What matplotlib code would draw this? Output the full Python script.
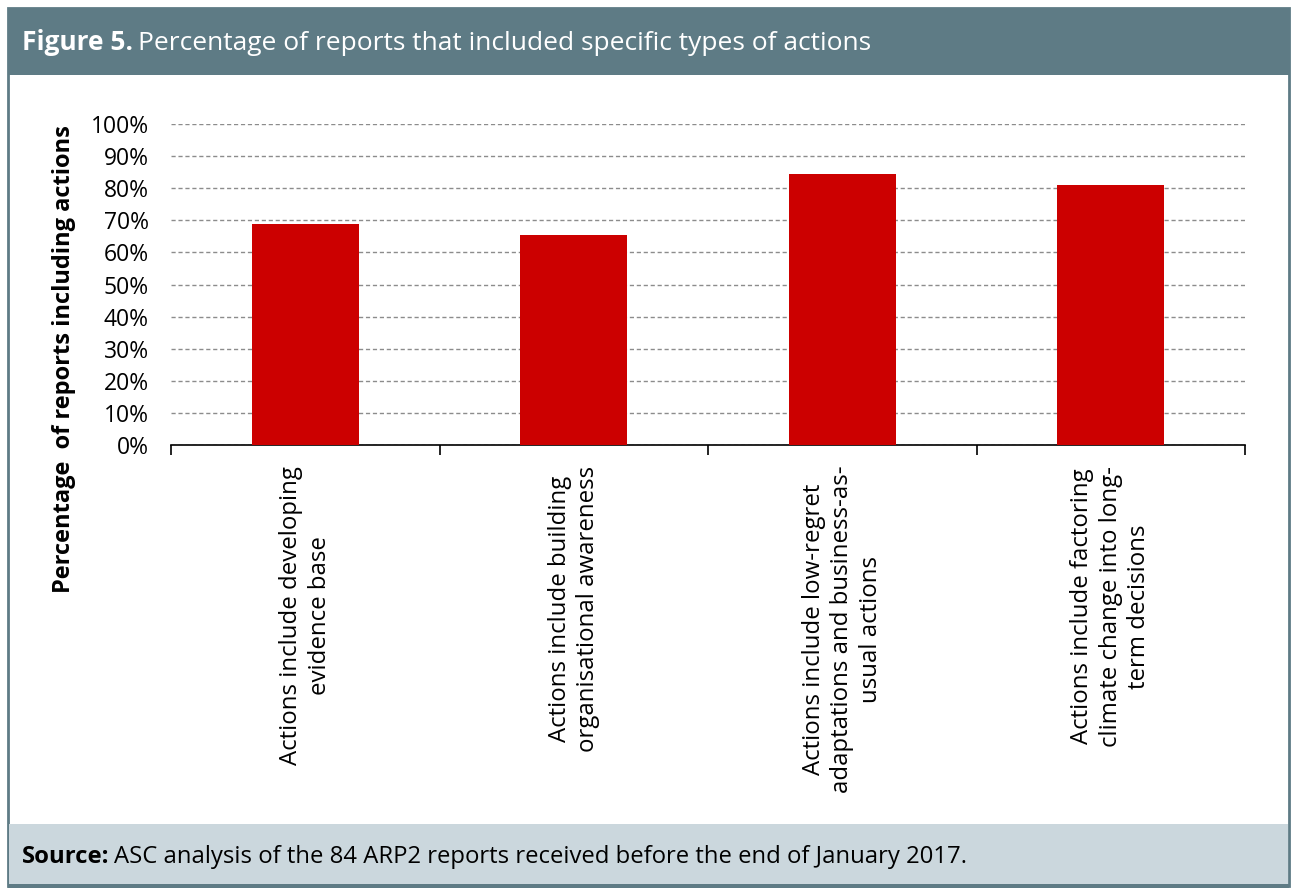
import matplotlib.pyplot as plt
from matplotlib.patches import Rectangle
from matplotlib.ticker import PercentFormatter

plt.rcParams['font.family'] = ['Open Sans', 'DejaVu Sans']

# ARP2 reports (84 in total) including each type of action
categories = [
    "Actions include developing\nevidence base",
    "Actions include building\norganisational awareness",
    "Actions include low-regret\nadaptations and business-as-\nusual actions",
    "Actions include factoring\nclimate change into long-\nterm decisions",
]
shares = [0.690, 0.655, 0.845, 0.810]
yticks = [i / 10 for i in range(11)]

frame_col = "#5E7B85"
foot_col = "#CBD7DD"
bar_col = "#CC0000"

fig = plt.figure(figsize=(12.95, 8.89), dpi=100)
W, H = 1295, 889

def box(x0, y0, x1, y1, **kw):
    # pixel box, measured from top-left
    fig.patches.append(Rectangle((x0 / W, 1 - y1 / H), (x1 - x0) / W, (y1 - y0) / H,
                                 transform=fig.transFigure, zorder=-1, **kw))

box(8, 8, 1289, 886, facecolor="white", edgecolor=frame_col, linewidth=2)
box(8, 8, 1289, 75, facecolor=frame_col, edgecolor="none")
box(9, 824, 1288, 884, facecolor=foot_col, edgecolor="none")
box(8, 884, 1289, 888, facecolor=frame_col, edgecolor="none")

ax = fig.add_axes([171 / W, 1 - 445 / H, (1245 - 171) / W, (445 - 124) / H])
ax.patch.set_alpha(0)
x = range(len(categories))
ax.bar(x, shares, width=0.4, color=bar_col, zorder=3)
ax.set_xlim(-0.5, len(categories) - 0.5)
ax.set_ylim(0, 1)
ax.set_yticks(yticks)
ax.yaxis.set_major_formatter(PercentFormatter(1.0, decimals=0))
ax.tick_params(axis="y", length=0, labelsize=16.5, pad=16)
ax.grid(axis="y", color="#8C8C8C", linestyle=(0, (3, 2)), linewidth=1, zorder=1)
ax.set_axisbelow(True)
for side in ["top", "right", "left"]:
    ax.spines[side].set_visible(False)
ax.spines["bottom"].set_linewidth(1.2)

ax.set_xticks([i - 0.5 for i in range(len(categories) + 1)])
ax.set_xticklabels([])
ax.tick_params(axis="x", length=7, width=1.2, direction="out")
ax.set_xticks(list(x), minor=True)
ax.set_xticklabels(categories, minor=True, rotation=90, fontsize=17.3,
                   ha="center", va="top", multialignment="center", linespacing=1.25)
ax.tick_params(axis="x", which="minor", length=0, pad=15)

# y-axis title sits out by the frame edge
fig.text(64 / W, 1 - 359 / H, "Percentage  of reports including actions",
         rotation=90, fontsize=17, fontweight="bold", ha="center", va="center")

# title and source line: bold lead-in followed by regular text
fig.canvas.draw()
r = fig.canvas.get_renderer()

def lead_text(px, py, bold, rest, size, color):
    t = fig.text(px / W, 1 - py / H, bold, fontsize=size, fontweight="bold",
                 color=color, va="center", ha="left")
    bb = t.get_window_extent(renderer=r)
    fig.text(bb.x1 / W + 5 / W, 1 - py / H, rest, fontsize=size,
             color=color, va="center", ha="left")

lead_text(22, 43, "Figure 5.", "Percentage of reports that included specific types of actions",
          19, "white")
lead_text(22, 857, "Source:", "ASC analysis of the 84 ARP2 reports received before the end of January 2017.",
          17.2, "black")

fig.savefig("out.png", dpi=100)
